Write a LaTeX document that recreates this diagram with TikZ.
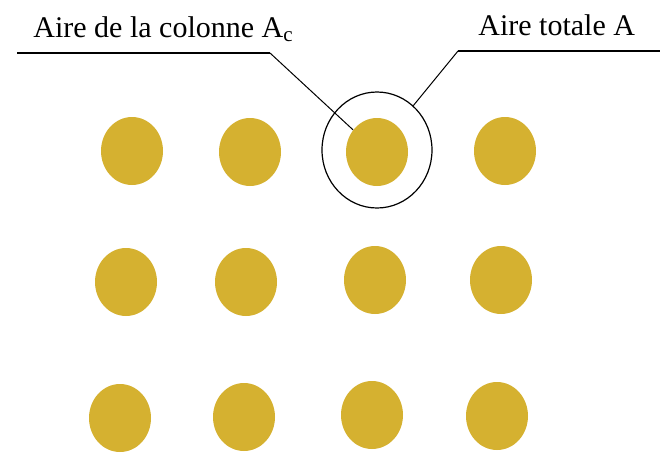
\documentclass[tikz,border=0pt]{standalone}
\usepackage{fontspec}
\setmainfont{Liberation Serif}
\usetikzlibrary{shapes.geometric}
\definecolor{colgold}{RGB}{213,177,48}
\tikzset{
  dot/.style={ellipse, fill=colgold, draw=none, minimum width=31pt, minimum height=34pt, inner sep=0pt},
  label/.style={anchor=base west, inner sep=0pt, font=\fontsize{15}{17}\selectfont},
}
\begin{document}
\begin{tikzpicture}[x=0.5pt,y=-0.5pt]
\useasboundingbox (0,0) rectangle (660,456);
% the columns
\foreach \name/\px/\py in {11/132/151, 12/250/152, 13/377/152, 14/505/151,
                          21/126/282, 22/246/282, 23/375/280, 24/501/280,
                          31/120/418, 32/244/417, 33/372/415, 34/497/416}
  \node[dot] (d\name) at (\px,\py) {};
% area around one column
\node[draw, ellipse, line width=0.6pt, minimum width=55pt, minimum height=58pt] (zone) at (377,150) {};
% labels
\node[label] (lcol) at (33,37) {Aire de la colonne A\textsubscript{c}};
\node[label] (ltot) at (478,35) {Aire totale A};
\coordinate (sl) at (17,53);
\coordinate (kl) at (270,53);
\coordinate (kr) at (458,51);
\coordinate (er) at (660,51);
\draw[line width=0.5pt] (sl) -- (kl) -- (d13);
\draw[line width=0.9pt] (sl) -- (kl);
\draw[line width=0.5pt] (zone) -- (kr) -- (er);
\draw[line width=0.9pt] (kr) -- (er);
\end{tikzpicture}
\end{document}
